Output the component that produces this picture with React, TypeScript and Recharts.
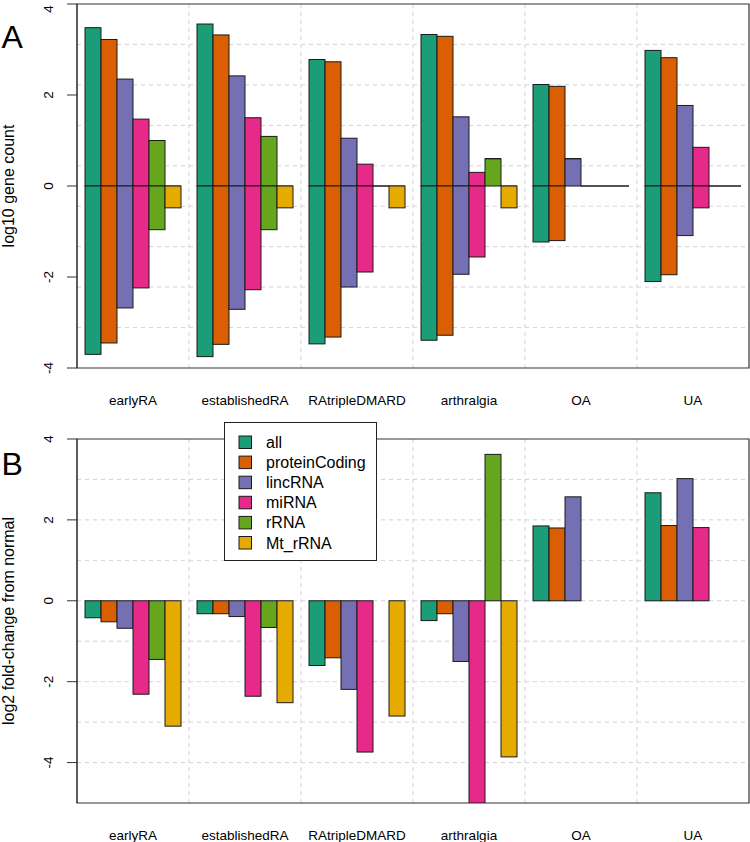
import React from 'react';
import { BarChart, Bar, XAxis, YAxis, CartesianGrid, ReferenceArea, Legend } from 'recharts';

const groups = ['earlyRA', 'establishedRA', 'RAtripleDMARD', 'arthralgia', 'OA', 'UA'];
const types = ['all', 'proteinCoding', 'lincRNA', 'miRNA', 'rRNA', 'Mt_rRNA'];
const colors = ['#1B9E77', '#D95F02', '#7570B3', '#E7298A', '#66A61E', '#E6AB02'];

// Panel A: log10 gene count (up = positive, down = negative)
const aUpAll = [3.48, 3.56, 2.78, 3.33, 2.23, 2.98];
const aUpProtein = [3.22, 3.32, 2.73, 3.29, 2.19, 2.82];
const aUpLinc = [2.35, 2.42, 1.05, 1.52, 0.6, 1.77];
const aUpMi = [1.47, 1.5, 0.48, 0.3, 0, 0.85];
const aUpR = [1.0, 1.09, 0, 0.6, 0, 0];
const aUpMt = [0, 0, 0, 0, 0, 0];

const aDnAll = [-3.7, -3.75, -3.47, -3.39, -1.23, -2.1];
const aDnProtein = [-3.45, -3.48, -3.32, -3.28, -1.2, -1.95];
const aDnLinc = [-2.68, -2.71, -2.22, -1.94, 0, -1.09];
const aDnMi = [-2.24, -2.28, -1.89, -1.56, 0, -0.48];
const aDnR = [-0.96, -0.96, 0, 0, 0, 0];
const aDnMt = [-0.48, -0.48, -0.48, -0.48, 0, 0];

// Panel B: log2 fold-change from normal
const bAll = [-0.42, -0.32, -1.6, -0.49, 1.85, 2.67];
const bProtein = [-0.52, -0.32, -1.41, -0.32, 1.8, 1.86];
const bLinc = [-0.68, -0.39, -2.19, -1.5, 2.57, 3.02];
const bMi = [-2.31, -2.36, -3.74, -5.0, null, 1.81];
const bR = [-1.45, -0.66, null, 3.62, null, null];
const bMt = [-3.1, -2.52, -2.85, -3.86, null, null];

const aDomain = [-4, 4];
const bDomain = [-5, 4];
const yTicks = [-4, -2, 0, 2, 4];

const aUp = [aUpAll, aUpProtein, aUpLinc, aUpMi, aUpR, aUpMt];
const aDn = [aDnAll, aDnProtein, aDnLinc, aDnMi, aDnR, aDnMt];
const bVals = [bAll, bProtein, bLinc, bMi, bR, bMt];

const dataA = groups.map((g, i) => {
  const row: any = { group: g };
  types.forEach((t, k) => {
    row[t + '_up'] = aUp[k][i];
    row[t + '_dn'] = aDn[k][i];
  });
  return row;
});

const dataB = groups.map((g, i) => {
  const row: any = { group: g };
  types.forEach((t, k) => {
    row[t] = bVals[k][i];
  });
  return row;
});

const FONT = "'Liberation Sans', Arial, Helvetica, sans-serif";
const EDGE = '#1a1a1a';
const FRAME = '#333';

const shapeA = (p: any) => {
  const { x, y, width, height, fill } = p;
  if (x == null || y == null || width == null || height == null || isNaN(y)) return null;
  const y0 = Math.min(y, y + height);
  const h = Math.abs(height);
  if (h < 0.5) {
    return <line x1={x} x2={x + width} y1={y0} y2={y0} stroke={EDGE} strokeWidth={1} />;
  }
  return <rect x={x} y={y0} width={width} height={h} fill={fill} stroke={EDGE} strokeWidth={1} />;
};

const shapeB = (p: any) => {
  const { x, y, width, height, fill } = p;
  if (x == null || y == null || width == null || height == null || isNaN(y)) return null;
  const y0 = Math.min(y, y + height);
  const h = Math.abs(height);
  if (h < 0.5) return null;
  return <rect x={x} y={y0} width={width} height={h} fill={fill} stroke={EDGE} strokeWidth={1} />;
};

const XTick = (p: any) => (
  <text x={p.x} y={p.y + 37} textAnchor="middle" fontSize={13.5} fontFamily={FONT} fill="#000">
    {p.payload.value}
  </text>
);

const YTick = (p: any) => {
  const bx = p.x - 12;
  return (
    <text x={bx} y={p.y} transform={`rotate(-90 ${bx} ${p.y})`} textAnchor="middle" fontSize={13.5} fontFamily={FONT} fill="#000">
      {p.payload.value}
    </text>
  );
};

const yTitle = (title: string) => (p: any) => {
  const vb = p.viewBox || {};
  const cy = vb.y + vb.height / 2;
  return (
    <text x={13.5} y={cy} transform={`rotate(-90 13.5 ${cy})`} textAnchor="middle" fontSize={16} fontFamily={FONT} fill="#000">
      {title}
    </text>
  );
};

const vGen = ({ offset }: any) =>
  groups.slice(1).map((_, i) => offset.left + ((i + 1) * offset.width) / groups.length);
const hGen = ({ offset }: any) =>
  [1, 2, 3, 4, 5, 6, 7, 8].map((k) => offset.top + (k * offset.height) / 9);

const LegendBox = () => (
  <div style={{ width: 153, height: 139, boxSizing: 'border-box', border: '1px solid #222', background: '#fff' }}>
    <svg width={151} height={137} style={{ display: 'block' }}>
      {types.map((t, i) => (
        <g key={t}>
          <rect x={14} y={13 + i * 20.1} width={12.5} height={12.5} fill={colors[i]} stroke={EDGE} strokeWidth={1} />
          <text x={41} y={25 + i * 20.1} fontSize={16} fontFamily={FONT} fill="#000">
            {t}
          </text>
        </g>
      ))}
    </svg>
  </div>
);

export default function App() {
  return (
    <div style={{ position: 'absolute', left: 0, top: 0, width: 750, height: 842, background: '#fff' }}>
      <BarChart
        width={750}
        height={420}
        data={dataA}
        stackOffset="sign"
        barCategoryGap={8}
        barGap={0}
        margin={{ top: 4, right: 1, left: 0, bottom: 0 }}
      >
        <CartesianGrid
          stroke="#d3d3d3"
          strokeDasharray="4 4"
          verticalCoordinatesGenerator={vGen}
          horizontalCoordinatesGenerator={hGen}
        />
        <XAxis dataKey="group" interval={0} tickLine={false} axisLine={false} tickSize={0} tickMargin={0} height={52} tick={<XTick />} padding={{ left: 0, right: 0 }} />
        <YAxis
          type="number"
          domain={aDomain}
          ticks={yTicks}
          width={77}
          tickSize={10}
          tickMargin={2}
          tickLine={{ stroke: FRAME }}
          axisLine={{ stroke: FRAME }}
          tick={<YTick />}
          allowDataOverflow
          label={{ content: yTitle('log10 gene count') }}
        />
        {types.map((t, k) => (
          <Bar key={t + '_up'} dataKey={t + '_up'} stackId={t} fill={colors[k]} isAnimationActive={false} shape={shapeA} />
        ))}
        {types.map((t, k) => (
          <Bar key={t + '_dn'} dataKey={t + '_dn'} stackId={t} fill={colors[k]} isAnimationActive={false} shape={shapeA} />
        ))}
        <ReferenceArea y1={aDomain[0]} y2={aDomain[1]} fill="none" stroke={FRAME} strokeWidth={1.2} fillOpacity={0} />
      </BarChart>
      <BarChart
        width={750}
        height={422}
        data={dataB}
        barCategoryGap={8}
        barGap={0}
        margin={{ top: 19, right: 1, left: 0, bottom: 0 }}
      >
        <CartesianGrid
          stroke="#d3d3d3"
          strokeDasharray="4 4"
          verticalCoordinatesGenerator={vGen}
          horizontalCoordinatesGenerator={hGen}
        />
        <XAxis dataKey="group" interval={0} tickLine={false} axisLine={false} tickSize={0} tickMargin={0} height={39} tick={<XTick />} padding={{ left: 0, right: 0 }} />
        <YAxis
          type="number"
          domain={bDomain}
          ticks={yTicks}
          width={77}
          tickSize={10}
          tickMargin={2}
          tickLine={{ stroke: FRAME }}
          axisLine={{ stroke: FRAME }}
          tick={<YTick />}
          allowDataOverflow
          label={{ content: yTitle('log2 fold-change from normal') }}
        />
        {types.map((t, k) => (
          <Bar key={t} dataKey={t} fill={colors[k]} isAnimationActive={false} shape={shapeB} />
        ))}
        <ReferenceArea y1={bDomain[0]} y2={bDomain[1]} fill="none" stroke={FRAME} strokeWidth={1.2} fillOpacity={0} />
        <Legend
          layout="vertical"
          align="center"
          verticalAlign="middle"
          content={<LegendBox />}
          wrapperStyle={{ position: 'absolute', left: 224, top: 2, width: 153, height: 139 }}
        />
      </BarChart>
      <svg width={750} height={842} style={{ position: 'absolute', left: 0, top: 0, pointerEvents: 'none' }}>
        <text x={1.5} y={48} fontSize={32} fontFamily={FONT} fill="#000">A</text>
        <text x={1.5} y={475} fontSize={32} fontFamily={FONT} fill="#000">B</text>
      </svg>
    </div>
  );
}
